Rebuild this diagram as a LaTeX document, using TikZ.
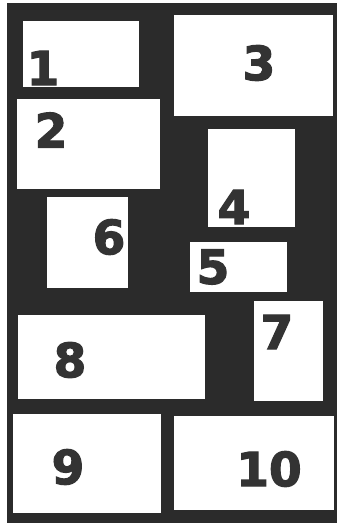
\documentclass[tikz,border=0pt]{standalone}
\usepackage{fontspec}
\newfontfamily\digitfont{DejaVu Sans Bold}[FakeBold=2.5]
\definecolor{bgdark}{HTML}{2B2B2B}
\definecolor{digit}{HTML}{333333}
\begin{document}
\begin{tikzpicture}[x=1pt,y=-1pt,
  panel/.style={fill=white,draw=none,inner sep=0pt,outer sep=0pt},
  num/.style={inner sep=0pt,text=digit,font=\digitfont\fontsize{47}{47}\selectfont}]
\useasboundingbox (0,0) rectangle (337,524);
\fill[white] (0,0) rectangle (337,524);
\fill[bgdark] (7,3) rectangle (337,523);
% panels
\node[panel,minimum width=116pt,minimum height=66pt] (b1) at (81,54) {};
\node[panel,minimum width=143pt,minimum height=90pt] (b2) at (88.5,144) {};
\node[panel,minimum width=159pt,minimum height=101pt] (b3) at (253.5,65.5) {};
\node[panel,minimum width=87pt,minimum height=98pt] (b4) at (251.5,178) {};
\node[panel,minimum width=97pt,minimum height=50pt] (b5) at (238.5,267) {};
\node[panel,minimum width=81pt,minimum height=91pt] (b6) at (87.5,242.5) {};
\node[panel,minimum width=69pt,minimum height=100pt] (b7) at (288.5,351) {};
\node[panel,minimum width=187pt,minimum height=84pt] (b8) at (111.5,357) {};
\node[panel,minimum width=148pt,minimum height=99pt] (b9) at (87,463.5) {};
\node[panel,minimum width=160pt,minimum height=94pt] (b10) at (254,463) {};
% labels
\node[num] (n1) at (43,68) {1};
\node[num] (n2) at (51,130) {2};
\node[num] (n3) at (259,63) {3};
\node[num] (n4) at (234,207) {4};
\node[num] (n5) at (213,267) {5};
\node[num] (n6) at (109,237) {6};
\node[num] (n7) at (277,332) {7};
\node[num] (n8) at (70,360) {8};
\node[num] (n9) at (68,467) {9};
\node[num] (n10) at (269,469) {10};
\end{tikzpicture}
\end{document}
